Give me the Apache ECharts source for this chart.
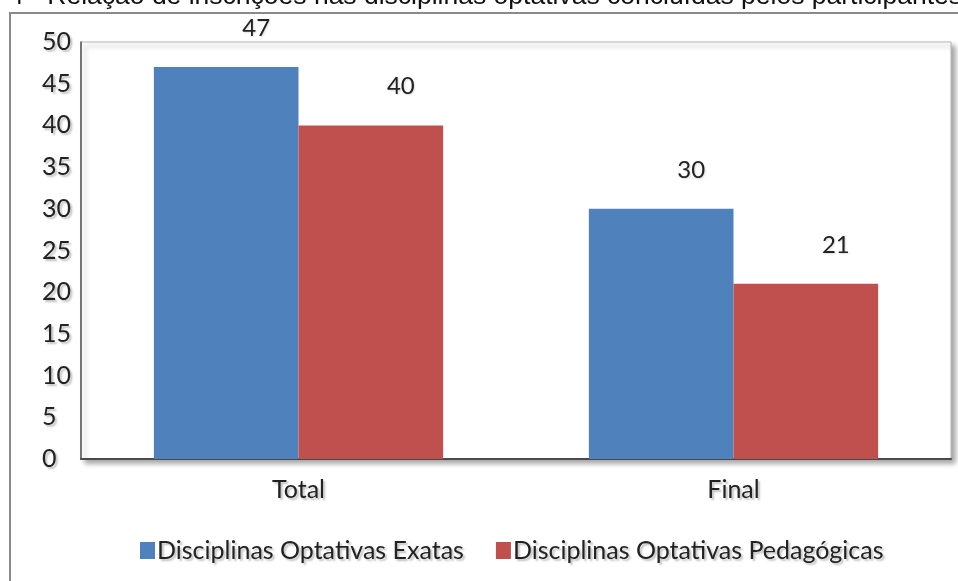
<!DOCTYPE html>
<html>
<head>
<meta charset="utf-8">
<script src="https://cdn.jsdelivr.net/npm/echarts@6/dist/echarts.min.js"></script>
<style>
  html, body { margin: 0; padding: 0; background: #fff; }
  #chart { width: 958px; height: 581px; }
</style>
</head>
<body>
<div id="chart"></div>
<script>
// Inscrições em disciplinas optativas, total e concluídas
const categories = ['Total', 'Final'];
const seriesNames = ['Disciplinas Optativas Exatas', 'Disciplinas Optativas Pedagógicas'];
const exatas = [47, 30];
const pedagogicas = [40, 21];
const yTicks = { min: 0, max: 50, interval: 5 };
const heading = '4 - Relação de inscrições nas disciplinas optativas concluídas pelos participantes';

const font = 'Lato, "Open Sans", sans-serif';
const shadowText = {
  textShadowColor: 'rgba(0,0,0,0.25)',
  textShadowBlur: 2,
  textShadowOffsetX: 2,
  textShadowOffsetY: 2
};

const chart = echarts.init(document.getElementById('chart'), null, { renderer: 'canvas' });

const valueLabel = {
  show: true,
  position: 'top',
  offset: [30, -22],
  fontFamily: font,
  fontSize: 24,
  color: '#222',
  textShadowColor: 'rgba(0,0,0,0.15)',
  textShadowBlur: 2,
  textShadowOffsetX: 1,
  textShadowOffsetY: 1
};

chart.setOption({
  animation: false,
  backgroundColor: '#fff',
  graphic: [
    {
      type: 'rect',
      shape: { x: 10, y: 13, width: 960, height: 600 },
      style: { fill: 'none', stroke: '#8a8a8a', lineWidth: 2 },
      z: -1
    },
    {
      type: 'text',
      x: 9,
      y: 10,
      style: {
        text: heading,
        fontFamily: '"Liberation Sans", Arial, sans-serif',
        fontSize: 26.5,
        fill: '#111',
        textVerticalAlign: 'bottom'
      }
    }
  ],
  grid: {
    left: 81, top: 42, right: 7, bottom: 122,
    show: true,
    backgroundColor: '#fff',
    borderColor: '#b5b5b5',
    borderWidth: 1,
    shadowColor: 'rgba(0,0,0,0.35)',
    shadowBlur: 5,
    shadowOffsetX: 4,
    shadowOffsetY: 4
  },
  legend: {
    data: seriesNames,
    top: 533,
    left: 135,
    icon: 'rect',
    itemWidth: 15,
    itemHeight: 17,
    itemGap: 32,
    textStyle: Object.assign({ fontFamily: font, fontSize: 25, color: '#222', padding: [0, 0, 0, -3] }, shadowText)
  },
  xAxis: {
    type: 'category',
    data: categories,
    axisLine: { lineStyle: { color: '#4a4a4a', width: 2 } },
    axisTick: { show: false },
    axisLabel: Object.assign({ fontFamily: font, fontSize: 25, color: '#222', margin: 18 }, shadowText)
  },
  yAxis: {
    type: 'value',
    min: yTicks.min,
    max: yTicks.max,
    interval: yTicks.interval,
    axisLine: { show: true, lineStyle: { color: '#555', width: 1.5 } },
    axisTick: { show: false },
    splitLine: { show: false },
    axisLabel: Object.assign({ fontFamily: font, fontSize: 25, color: '#222', align: 'left', margin: 39 }, shadowText)
  },
  series: [
    {
      name: seriesNames[0],
      type: 'bar',
      data: exatas,
      barGap: '0%',
      barCategoryGap: '33.5%',
      itemStyle: { color: '#4F81BD' },
      label: valueLabel
    },
    {
      name: seriesNames[1],
      type: 'bar',
      data: pedagogicas,
      itemStyle: { color: '#C0504D' },
      label: valueLabel
    }
  ]
});
</script>
</body>
</html>
